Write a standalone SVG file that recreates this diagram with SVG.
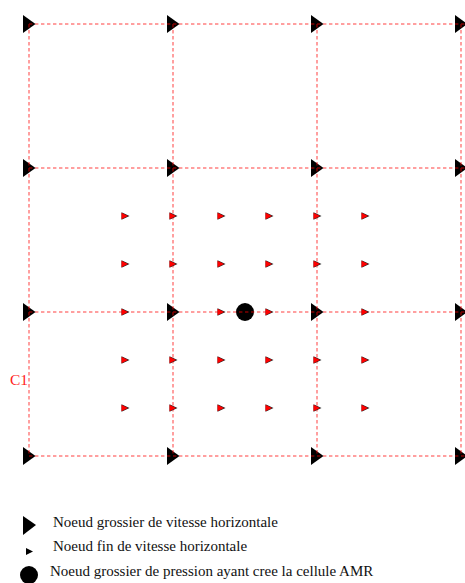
<svg xmlns="http://www.w3.org/2000/svg" xmlns:xlink="http://www.w3.org/1999/xlink" width="465" height="583" viewBox="0 0 465 583">
<style>
.g{stroke:#f00;stroke-opacity:.5;stroke-width:1.5;stroke-dasharray:3.4 2.6;fill:none}
.t{font-family:"Liberation Serif","Times New Roman",serif;font-size:15px;fill:#111}
</style>
<defs>
<polygon id="big" points="-6,-9 6.500,0 -6,9" fill="#000"/>
<g id="sm"><polygon points="-3.500,-3.800 4.500,0 -3.500,3.800" fill="#222"/><polygon points="-3.500,-3.200 3,0 -3.500,3.200" fill="#f00"/></g>
</defs>
<rect width="465" height="583" fill="#fff"/>
<g id="coarse-nodes">
<use xlink:href="#big" x="29" y="24"/><use xlink:href="#big" x="173" y="24"/><use xlink:href="#big" x="317" y="24"/><use xlink:href="#big" x="461" y="24"/>
<use xlink:href="#big" x="29" y="168"/><use xlink:href="#big" x="173" y="168"/><use xlink:href="#big" x="317" y="168"/><use xlink:href="#big" x="461" y="168"/>
<use xlink:href="#big" x="29" y="312"/><use xlink:href="#big" x="173" y="312"/><use xlink:href="#big" x="317" y="312"/><use xlink:href="#big" x="461" y="312"/>
<use xlink:href="#big" x="29" y="456"/><use xlink:href="#big" x="173" y="456"/><use xlink:href="#big" x="317" y="456"/><use xlink:href="#big" x="461" y="456"/>
</g>
<g id="pressure-node"><circle cx="245" cy="312" r="9" fill="#000"/></g>
<g id="connectors">
<path class="g" d="M29 24H465M29 168H465M29 312H465M29 456H465M29 24V456M173 24V456M317 24V456M461 24V456"/>
</g>
<g id="fine-nodes">
<use xlink:href="#sm" x="125" y="216"/><use xlink:href="#sm" x="173" y="216"/><use xlink:href="#sm" x="221" y="216"/><use xlink:href="#sm" x="269" y="216"/><use xlink:href="#sm" x="317" y="216"/><use xlink:href="#sm" x="365" y="216"/>
<use xlink:href="#sm" x="125" y="264"/><use xlink:href="#sm" x="173" y="264"/><use xlink:href="#sm" x="221" y="264"/><use xlink:href="#sm" x="269" y="264"/><use xlink:href="#sm" x="317" y="264"/><use xlink:href="#sm" x="365" y="264"/>
<use xlink:href="#sm" x="125" y="312"/><use xlink:href="#sm" x="221" y="312"/><use xlink:href="#sm" x="269" y="312"/><use xlink:href="#sm" x="365" y="312"/>
<use xlink:href="#sm" x="125" y="360"/><use xlink:href="#sm" x="173" y="360"/><use xlink:href="#sm" x="221" y="360"/><use xlink:href="#sm" x="269" y="360"/><use xlink:href="#sm" x="317" y="360"/><use xlink:href="#sm" x="365" y="360"/>
<use xlink:href="#sm" x="125" y="408"/><use xlink:href="#sm" x="173" y="408"/><use xlink:href="#sm" x="221" y="408"/><use xlink:href="#sm" x="269" y="408"/><use xlink:href="#sm" x="317" y="408"/><use xlink:href="#sm" x="365" y="408"/>
</g>
<g id="label-c1"><text x="10" y="385" font-family="Liberation Serif, serif" font-size="15.500" fill="#f22">C1</text></g>
<g id="legend">
<polygon points="23,516 36,525 23,535" fill="#000"/>
<polygon points="26,548 33,551.500 26,555" fill="#000"/>
<circle cx="29" cy="575" r="9" fill="#000"/>
<text class="t" x="53" y="527">Noeud grossier de vitesse horizontale</text>
<text class="t" x="53" y="551">Noeud fin de vitesse horizontale</text>
<text class="t" x="50" y="576">Noeud grossier de pression ayant cree la cellule AMR</text>
</g>
</svg>
